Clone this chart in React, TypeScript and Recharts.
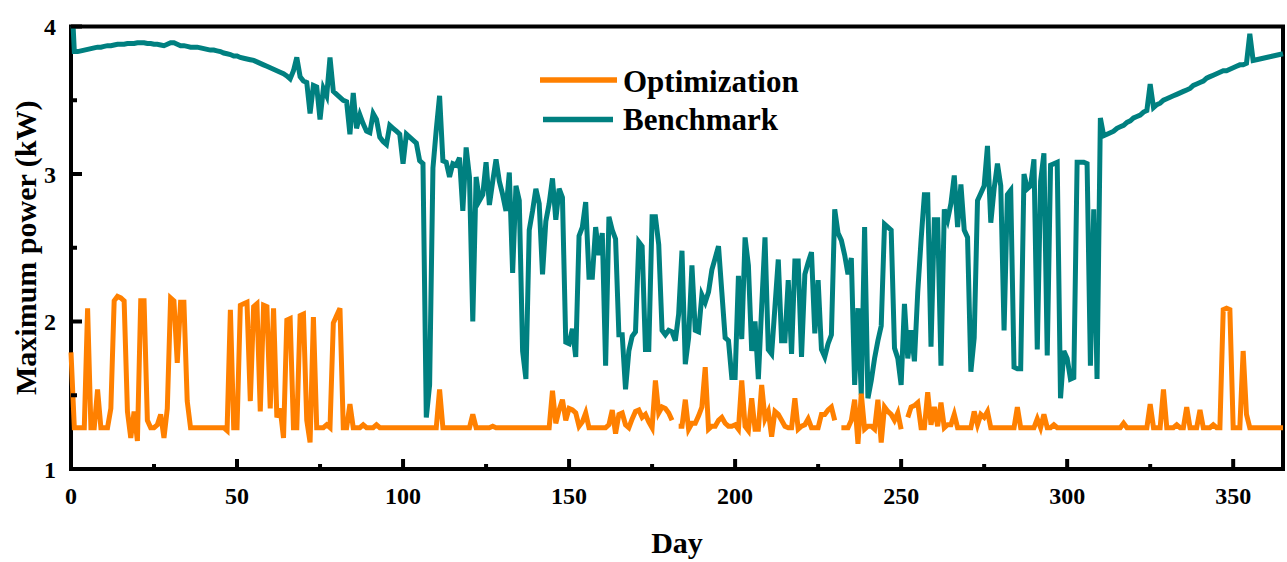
import { LineChart, Line, XAxis, YAxis, Legend, ReferenceArea } from 'recharts';

// daily maximum power, kW (day 0..365)
const BENCHMARK: number[] = [
  4.3, 3.83, 3.83, 3.835, 3.84, 3.845, 3.85, 3.855, 3.86, 3.86,
  3.865, 3.87, 3.87, 3.875, 3.88, 3.88, 3.88, 3.885, 3.885, 3.885,
  3.89, 3.89, 3.89, 3.885, 3.885, 3.88, 3.88, 3.875, 3.87, 3.88,
  3.89, 3.89, 3.88, 3.87, 3.87, 3.865, 3.86, 3.86, 3.86, 3.855,
  3.85, 3.845, 3.84, 3.84, 3.835, 3.83, 3.82, 3.815, 3.81, 3.8,
  3.8, 3.79, 3.785, 3.78, 3.775, 3.77, 3.76, 3.75, 3.74, 3.73,
  3.72, 3.71, 3.7, 3.69, 3.68, 3.665, 3.645, 3.7, 3.79, 3.66,
  3.63, 3.62, 3.41, 3.6, 3.59, 3.37, 3.58, 3.53, 3.79, 3.56,
  3.54, 3.52, 3.5, 3.49, 3.27, 3.55, 3.31, 3.4, 3.34, 3.29,
  3.28, 3.41, 3.37, 3.25, 3.22, 3.2, 3.33, 3.31, 3.29, 3.27,
  3.07, 3.27, 3.25, 3.23, 3.21, 3.09, 3.07, 1.35, 1.57, 3.04,
  3.3, 3.53, 3.09, 3.08, 2.98, 3.07, 3.06, 3.11, 2.75, 3.18,
  2.98, 2.0, 2.98, 2.82, 2.86, 3.08, 2.79, 2.95, 3.1, 2.95,
  2.86, 2.75, 3.01, 2.33, 2.92, 2.82, 1.8, 1.61, 2.62, 2.75,
  2.9, 2.8, 2.32, 2.68, 2.8, 2.97, 2.69, 2.9, 2.84, 1.86,
  1.85, 1.95, 1.76, 2.58, 2.64, 2.81, 2.3, 2.3, 2.64, 2.45,
  2.6, 1.7, 2.71, 2.62, 2.56, 1.91, 1.91, 1.54, 1.8, 1.9,
  1.93, 2.54, 2.51, 1.81, 1.81, 2.71, 2.71, 2.52, 1.94, 1.91,
  1.94, 1.93, 1.87, 2.05, 2.48, 1.71, 1.89, 2.38, 1.94, 1.93,
  2.18, 2.13, 2.2, 2.35, 2.43, 2.51, 2.2, 1.89, 1.87, 1.62,
  1.62, 2.31, 1.88, 2.57, 2.38, 1.8, 2.0, 1.61, 2.1, 2.57,
  1.81, 1.78, 2.1, 2.42, 1.87, 1.87, 2.28, 1.78, 2.41, 2.41,
  1.76, 2.32, 2.4, 2.47, 1.92, 2.28, 1.81, 1.76, 1.85, 1.91,
  2.76, 2.6, 2.55, 2.45, 2.32, 2.43, 1.57, 2.09, 1.5, 2.64,
  1.48, 1.6, 1.75, 1.87, 1.97, 2.66, 2.64, 2.62, 1.82, 1.75,
  1.57, 2.12, 1.75, 1.94, 1.73, 2.2, 2.55, 2.86, 2.86, 1.83,
  2.69, 2.69, 1.7, 2.76, 2.69, 2.8, 2.99, 2.64, 2.93, 2.62,
  2.57, 1.66, 1.89, 2.82, 2.87, 2.92, 3.19, 2.67, 2.9, 3.07,
  2.92, 1.94, 2.86, 2.89, 1.69, 1.68, 1.68, 3.0, 2.9, 2.92,
  3.1, 1.81, 2.95, 3.14, 1.77, 3.06, 3.07, 3.08, 1.48, 1.8,
  1.75, 1.61, 1.62, 3.08, 3.08, 3.08, 3.07, 1.7, 2.76, 1.61,
  3.38, 3.26, 3.27, 3.28, 3.29, 3.31, 3.32, 3.33, 3.35, 3.36,
  3.38, 3.39, 3.4, 3.42, 3.43, 3.61, 3.45, 3.47, 3.48, 3.5,
  3.51, 3.52, 3.53, 3.54, 3.55, 3.56, 3.57, 3.58, 3.6, 3.61,
  3.62, 3.63, 3.65, 3.66, 3.67, 3.68, 3.69, 3.7, 3.7, 3.71,
  3.72, 3.73, 3.74, 3.74, 3.75, 3.95, 3.77, 3.775, 3.78, 3.785,
  3.79, 3.795, 3.8, 3.805, 3.81, 3.815,
];

const OPTIMIZATION: (number | null)[] = [
  1.79, 1.28, 1.28, 1.28, 1.28, 2.09, 1.28, 1.28, 1.54, 1.28,
  1.28, 1.28, 1.41, 2.14, 2.17, 2.16, 2.14, 1.39, 1.21, 1.39,
  1.19, 2.14, 2.14, 1.33, 1.28, 1.28, 1.3, 1.37, 1.21, 1.41,
  2.16, 2.14, 1.72, 2.13, 2.13, 1.46, 1.28, 1.28, 1.28, 1.28,
  1.28, 1.28, 1.28, 1.28, 1.28, 1.28, 1.28, 1.26, 2.08, 1.28,
  1.28, 2.11, 2.12, 2.13, 1.46, 2.1, 2.12, 1.39, 2.11, 2.1,
  1.41, 2.09, 1.35, 1.41, 1.21, 2.01, 2.02, 1.28, 1.28, 2.04,
  2.05, 1.33, 1.18, 2.03, 1.28, 1.28, 1.28, 1.3, 1.28, 1.99,
  2.04, 2.09, 1.28, 1.28, 1.44, 1.28, 1.28, 1.28, 1.3, 1.28,
  1.28, 1.28, 1.3, 1.28, 1.28, 1.28, 1.28, 1.28, 1.28, 1.28,
  1.28, 1.28, 1.28, 1.28, 1.28, 1.28, 1.28, 1.28, 1.28, 1.28,
  1.28, 1.54, 1.28, 1.28, 1.28, 1.28, 1.28, 1.28, 1.28, 1.28,
  1.28, 1.37, 1.28, 1.28, 1.28, 1.28, 1.28, 1.29, 1.28, 1.28,
  1.28, 1.28, 1.28, 1.28, 1.28, 1.28, 1.28, 1.28, 1.28, 1.28,
  1.28, 1.28, 1.28, 1.28, 1.28, 1.53, 1.31, 1.4, 1.47, 1.33,
  1.41, 1.4, 1.38, 1.29, 1.32, 1.38, 1.28, 1.28, 1.28, 1.28,
  1.28, 1.28, 1.3, 1.4, 1.24, 1.37, 1.38, 1.3, 1.28, 1.34,
  1.39, 1.4, 1.35, 1.37, 1.32, 1.28, 1.6, 1.38, 1.42, 1.41,
  1.38, 1.33, null, 1.29, 1.29, 1.47, 1.27, 1.31, 1.31, 1.36,
  1.42, 1.69, 1.27, 1.29, 1.29, 1.33, 1.35, 1.31, 1.29, 1.29,
  1.3, 1.27, 1.6, 1.29, 1.26, 1.48, 1.27, 1.27, 1.57, 1.34,
  1.39, 1.22, 1.39, 1.37, 1.33, 1.29, 1.28, 1.28, 1.48, 1.27,
  1.29, 1.3, 1.34, 1.28, 1.28, 1.28, 1.37, 1.37, 1.4, 1.42,
  1.33, null, 1.28, 1.28, 1.28, 1.33, 1.47, 1.17, 1.51, 1.27,
  1.29, 1.29, 1.27, 1.47, 1.18, 1.42, 1.39, 1.37, 1.33, 1.38,
  1.27, null, 1.35, 1.42, 1.43, 1.45, 1.28, 1.28, 1.52, 1.3,
  1.42, 1.29, 1.45, 1.28, 1.3, 1.3, 1.37, 1.28, 1.28, 1.28,
  1.28, 1.28, 1.39, 1.3, 1.37, 1.35, 1.39, 1.28, 1.28, 1.28,
  1.28, 1.28, 1.28, 1.28, 1.28, 1.42, 1.28, 1.28, 1.28, 1.28,
  1.28, 1.34, 1.28, 1.37, 1.28, 1.28, 1.3, 1.28, 1.28, 1.28,
  1.28, 1.28, 1.28, 1.28, 1.28, 1.28, 1.28, 1.28, 1.28, 1.28,
  1.28, 1.28, 1.28, 1.28, 1.28, 1.28, 1.28, 1.31, 1.28, 1.28,
  1.28, 1.28, 1.28, 1.28, 1.28, 1.44, 1.28, 1.28, 1.28, 1.54,
  1.28, 1.28, 1.28, 1.3, 1.28, 1.28, 1.42, 1.28, 1.28, 1.28,
  1.4, 1.28, 1.28, 1.28, 1.3, 1.28, 1.28, 2.08, 2.09, 2.08,
  1.28, 1.28, 1.28, 1.8, 1.37, 1.28, 1.28, 1.28, 1.28, 1.28,
  1.28, 1.28, 1.28, 1.28, 1.28, 1.28,
];

const DAYS: number[] = BENCHMARK.map((_, i) => i);
const X_TICKS = [0, 25, 50, 75, 100, 125, 150, 175, 200, 225, 250, 275, 300, 325, 350];
const Y_TICKS = [1, 1.5, 2, 2.5, 3, 3.5, 4];

const ORANGE = '#ff8000';
const TEAL = '#008080';
const FONT = '"Liberation Serif", "Times New Roman", serif';

const data = DAYS.map((day, i) => ({
  day,
  optimization: OPTIMIZATION[i],
  benchmark: BENCHMARK[i],
}));

// ticks point inward, labels only on the majors
const XTick = (props: any) => {
  const { x, y, payload } = props;
  const major = payload.value % 50 === 0;
  return (
    <g>
      <line x1={x} x2={x} y1={y} y2={y - (major ? 10 : 5)} stroke="#000" strokeWidth={4} />
      {major && (
        <text x={x} y={y + 35} textAnchor="middle" fontFamily={FONT} fontWeight="bold" fontSize={24} fill="#000">
          {payload.value}
        </text>
      )}
    </g>
  );
};

const YTick = (props: any) => {
  const { x, y, payload } = props;
  const major = Number.isInteger(payload.value);
  return (
    <g>
      <line x1={x} x2={x + (major ? 11 : 6)} y1={y} y2={y} stroke="#000" strokeWidth={4} />
      {major && (
        <text x={x - 15} y={y + 8.5} textAnchor="end" fontFamily={FONT} fontWeight="bold" fontSize={24} fill="#000">
          {payload.value}
        </text>
      )}
    </g>
  );
};

const LegendBox = () => (
  <svg width={280} height={84}>
    <line x1={2} x2={79} y1={22} y2={22} stroke={ORANGE} strokeWidth={5.5} />
    <text x={85} y={34} fontFamily={FONT} fontWeight="bold" fontSize={31} fill="#000">Optimization</text>
    <line x1={5} x2={75} y1={61.5} y2={61.5} stroke={TEAL} strokeWidth={5.5} />
    <text x={85} y={72} fontFamily={FONT} fontWeight="bold" fontSize={31} fill="#000">Benchmark</text>
  </svg>
);

export default function App() {
  return (
    <div style={{ position: 'absolute', left: 0, top: 0, background: '#fff' }}>
      <LineChart
        width={1287}
        height={562}
        data={data}
        margin={{ top: 26.5, right: 4, left: 0, bottom: 0 }}
      >
        <XAxis
          type="number"
          dataKey="day"
          domain={[0, 365]}
          ticks={X_TICKS}
          interval={0}
          height={93}
          tickSize={0}
          tickMargin={0}
          tickLine={false}
          axisLine={false}
          tick={<XTick />}
          label={{
            value: 'Day',
            position: 'insideBottom',
            offset: 9,
            style: { fontFamily: FONT, fontWeight: 'bold', fontSize: 30, fill: '#000' },
          }}
        />
        <YAxis
          type="number"
          domain={[1, 4]}
          ticks={Y_TICKS}
          interval={0}
          allowDataOverflow
          width={71}
          tickSize={0}
          tickMargin={0}
          tickLine={false}
          axisLine={false}
          tick={<YTick />}
          label={{
            content: (p: any) => {
              const vb = p.viewBox || {};
              const cy = vb.height ? vb.y + vb.height / 2 : 248;
              return (
                <text
                  transform={`translate(25, ${cy}) rotate(-90)`}
                  textAnchor="middle"
                  dominantBaseline="central"
                  fontFamily={FONT}
                  fontWeight="bold"
                  fontSize={30}
                  fill="#000"
                >
                  Maximum power (kW)
                </text>
              );
            },
          }}
        />
        <Legend
          layout="vertical"
          align="center"
          verticalAlign="middle"
          content={<LegendBox />}
          wrapperStyle={{ left: 538, top: 58, width: 280, height: 84 }}
        />
        <Line
          type="linear"
          dataKey="benchmark"
          name="Benchmark"
          stroke={TEAL}
          strokeWidth={5}
          dot={false}
          activeDot={false}
          isAnimationActive={false}
        />
        <Line
          type="linear"
          dataKey="optimization"
          name="Optimization"
          stroke={ORANGE}
          strokeWidth={5}
          dot={false}
          activeDot={false}
          isAnimationActive={false}
        />
        <ReferenceArea x1={0} x2={365} y1={1} y2={4} fill="none" stroke="#000" strokeWidth={4} />
      </LineChart>
    </div>
  );
}
